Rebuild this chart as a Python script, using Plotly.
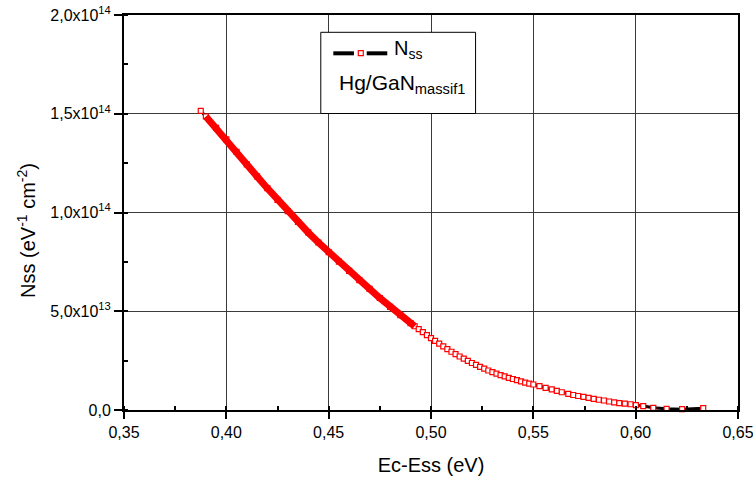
import plotly.graph_objects as go

# ---- data ----
ec_ess = [0.3875, 0.390, 0.395, 0.400, 0.405, 0.410, 0.415, 0.420, 0.425, 0.430, 0.435,
          0.440, 0.445, 0.450, 0.455, 0.460, 0.465, 0.470, 0.475, 0.480, 0.485, 0.490,
          0.492, 0.494, 0.496, 0.498, 0.500, 0.502, 0.504, 0.506, 0.508, 0.510, 0.512,
          0.514, 0.516, 0.518, 0.520, 0.522, 0.524, 0.526, 0.528, 0.530, 0.532, 0.534,
          0.536, 0.538, 0.540, 0.542, 0.544, 0.546, 0.548, 0.550,
          0.553, 0.556, 0.559, 0.5615, 0.5639, 0.5671, 0.5695, 0.5719, 0.5745, 0.5770,
          0.5795, 0.5820, 0.5845, 0.5870, 0.5895, 0.5920, 0.5947, 0.5975, 0.6001, 0.6037,
          0.6086, 0.6151, 0.6227, 0.6330]

nss_e13 = [15.15, 14.86, 14.28, 13.70, 13.07, 12.44, 11.83, 11.23, 10.64, 10.07, 9.52,
           8.99, 8.48, 7.99, 7.51, 7.04, 6.58, 6.13, 5.67, 5.22, 4.80, 4.40,
           4.24, 4.09, 3.94, 3.79, 3.64, 3.50, 3.36, 3.22, 3.08, 2.95, 2.83,
           2.71, 2.60, 2.49, 2.38, 2.28, 2.18, 2.09, 2.00, 1.92, 1.84, 1.77,
           1.70, 1.63, 1.57, 1.51, 1.45, 1.39, 1.34, 1.29,
           1.21, 1.12, 1.04, 0.97, 0.90, 0.82, 0.76, 0.71, 0.66, 0.61,
           0.56, 0.52, 0.48, 0.43, 0.39, 0.35, 0.32, 0.29, 0.25, 0.20,
           0.11, 0.06, 0.04, 0.09]

nss = [v * 1e13 for v in nss_e13]

x_tick_vals = [0.35, 0.40, 0.45, 0.50, 0.55, 0.60, 0.65]
x_tick_text = ["0,35", "0,40", "0,45", "0,50", "0,55", "0,60", "0,65"]
y_tick_vals = [0, 5e13, 1e14, 1.5e14, 2e14]
y_tick_text = ["0,0", "5,0x10<sup>13</sup>", "1,0x10<sup>14</sup>",
               "1,5x10<sup>14</sup>", "2,0x10<sup>14</sup>"]

FONT = "Arial, Liberation Sans, sans-serif"
RED = "#ff0000"

fig = go.Figure()
fig.add_trace(go.Scatter(
    x=ec_ess, y=nss, mode="lines+markers", name="N<sub>ss</sub>",
    line=dict(color="black", width=3),
    marker=dict(symbol="square", size=5, color="white",
                line=dict(color=RED, width=1.2)),
    cliponaxis=False, showlegend=False,
))
# dense part of the series: overlapping markers form a solid red band
fig.add_trace(go.Scatter(
    x=ec_ess[1:23], y=nss[1:23], mode="lines",
    line=dict(color=RED, width=7),
    showlegend=False, hoverinfo="skip",
))

axis_common = dict(
    showline=True, linecolor="black", linewidth=2, mirror=True,
    ticks="outside", tickwidth=1.5, tickcolor="black",
    showgrid=True, gridcolor="#3a3a3a", gridwidth=1, zeroline=False,
    tickfont=dict(family=FONT, size=16, color="black"),
    automargin=False, ticklabeloverflow="allow",
)

# legend box (Origin-style): frame, key line broken around a square marker, texts
legend_shapes = [
    dict(type="rect", xref="paper", yref="paper",
         x0=0.3205, x1=0.5726, y0=0.7506, y1=0.9562,
         fillcolor="white", line=dict(color="black", width=1), layer="above"),
    dict(type="line", xref="paper", yref="paper",
         x0=0.3409, x1=0.3745, y0=0.9030, y1=0.9030,
         line=dict(color="black", width=4), layer="above"),
    dict(type="line", xref="paper", yref="paper",
         x0=0.3953, x1=0.4288, y0=0.9030, y1=0.9030,
         line=dict(color="black", width=4), layer="above"),
    dict(type="rect", xref="paper", yref="paper",
         x0=0.3816, x1=0.3897, y0=0.8970, y1=0.9096,
         fillcolor="white", line=dict(color=RED, width=1.2), layer="above"),
]

fig.update_layout(
    width=753, height=481,
    margin=dict(l=124, r=15, t=15, b=71),
    paper_bgcolor="white", plot_bgcolor="white",
    font=dict(family=FONT, color="black"),
    showlegend=False,
    xaxis=dict(
        range=[0.35, 0.65], tickmode="array",
        tickvals=x_tick_vals, ticktext=x_tick_text, ticklen=7,
        minor=dict(ticks="inside", ticklen=4, tickcolor="black", tickwidth=1.5,
                   tick0=0.35, dtick=0.025, showgrid=False),
        title=dict(text="Ec-Ess (eV)", font=dict(family=FONT, size=20), standoff=18),
        **axis_common,
    ),
    yaxis=dict(
        range=[0, 2e14], tickmode="array",
        tickvals=y_tick_vals, ticktext=y_tick_text, ticklen=8,
        minor=dict(ticks="inside", ticklen=4, tickcolor="black", tickwidth=1.5,
                   tick0=0, dtick=2.5e13, showgrid=False),
        **axis_common,
    ),
    shapes=legend_shapes,
    annotations=[
        dict(text="Nss (eV<sup>-1</sup> cm<sup>-2</sup>)", xref="paper", yref="paper",
             x=-0.158, y=0.4557, xanchor="center", yanchor="middle", textangle=-90,
             showarrow=False, font=dict(family=FONT, size=20, color="black")),
        dict(text="N<sub>ss</sub>", xref="paper", yref="paper",
             x=0.436, y=0.912, xanchor="left", yanchor="middle",
             showarrow=False, font=dict(family=FONT, size=20, color="black")),
        dict(text="Hg/GaN<sub>massif1</sub>", xref="paper", yref="paper",
             x=0.3464, y=0.825, xanchor="left", yanchor="middle",
             showarrow=False, font=dict(family=FONT, size=21, color="black")),
    ],
)

# remove the default 8px page margin so the figure sits at the window's corner
fig.write_html("out.html", config={"displayModeBar": False},
               post_script="document.body.style.margin='0';")
